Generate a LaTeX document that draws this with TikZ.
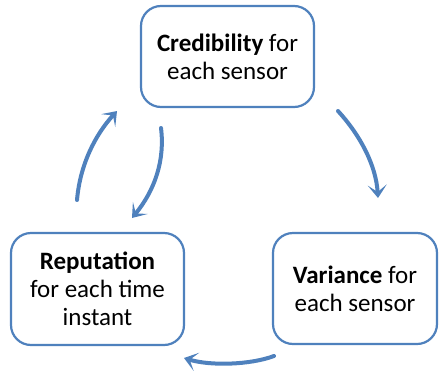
\documentclass[tikz,border=0pt]{standalone}
\usepackage{fontspec}
\setmainfont{Carlito}
\usetikzlibrary{arrows.meta}
\definecolor{ob}{HTML}{4F81BD}
\begin{document}
\begin{tikzpicture}[x=1pt,y=-1pt,
  box/.style={draw=ob, line width=2.2pt, rounded corners=20pt, fill=white, align=center,
    font=\fontsize{25}{28}\selectfont, inner sep=0pt},
  arr/.style={draw=ob, line width=4pt, line cap=round,
    -{Stealth[length=13pt,width=19pt,inset=7pt]}}]
\useasboundingbox (0,0) rectangle (439,370);
\node[box, minimum width=173pt, minimum height=101pt] (cred) at (227.5,56.5) {\textbf{Credibility} for\\each sensor};
\node[box, minimum width=173pt, minimum height=112pt] (rep) at (97.5,289) {\textbf{Reputation}\\for each time\\instant};
\node[box, minimum width=164pt, minimum height=111pt] (var) at (355,288.5) {\textbf{Variance} for\\each sensor};
\coordinate (a1s) at (338,111); \coordinate (a1e) at (378,198);
\coordinate (a2s) at (274,356); \coordinate (a2e) at (184,358);
\coordinate (a3s) at (77,200);  \coordinate (a3e) at (117,111);
\coordinate (a4s) at (161,128); \coordinate (a4e) at (132,218);
\draw[arr] (a1s) .. controls (360,135) and (376,165) .. (a1e);
\draw[arr] (a2s) .. controls (250,365) and (210,366) .. (a2e);
\draw[arr] (a3s) .. controls (80,165) and (95,135) .. (a3e);
\draw[arr] (a4s) .. controls (165,160) and (155,190) .. (a4e);
\end{tikzpicture}
\end{document}
